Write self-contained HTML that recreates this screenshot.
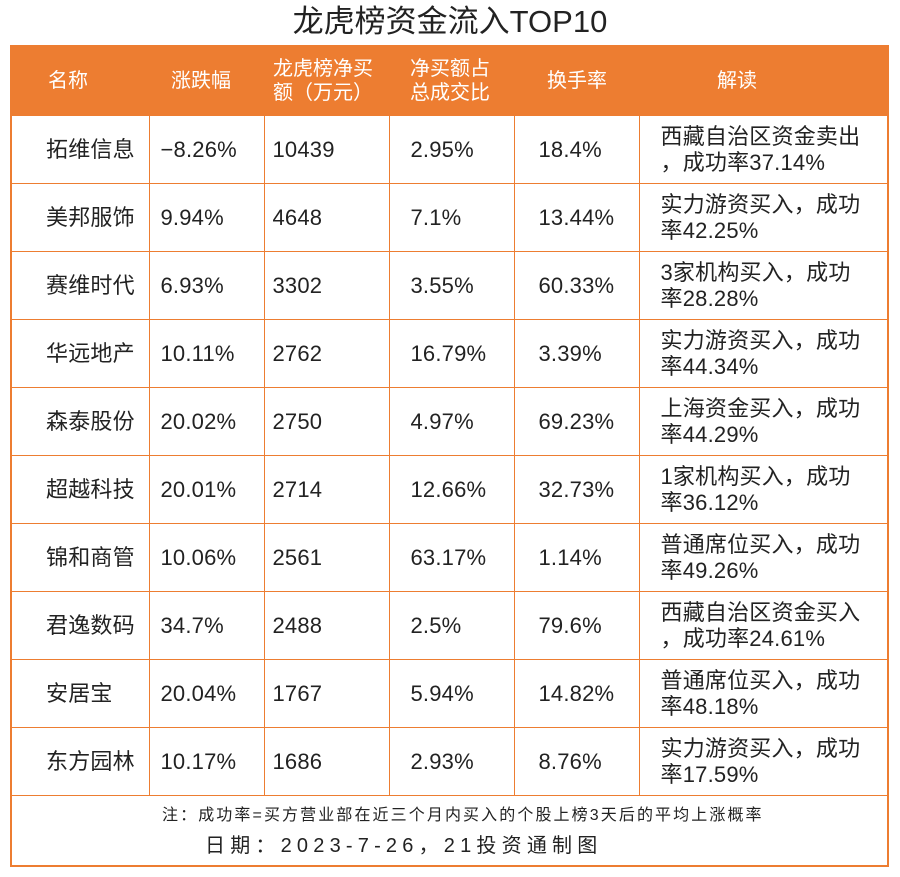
<!DOCTYPE html>
<html><head><meta charset="utf-8">
<style>
body{margin:0;width:900px;height:877px;background:#fff;font-family:"Liberation Sans","Noto Sans CJK SC",sans-serif;color:#222;position:relative;overflow:hidden}
#title{position:absolute;top:3px;left:0;width:900px;text-align:center;font-size:31px;line-height:38px;color:#222}
#wrap{position:absolute;left:10px;top:45px;width:875px;height:818px;border:2px solid #ED7D31;}
table{border-collapse:collapse;position:absolute;left:0;top:0;table-layout:fixed;width:877px}
th{background:#ED7D31;color:#fff;font-weight:normal;font-size:20px;line-height:24px;height:68px;text-align:left;vertical-align:middle;padding:0;border:none;white-space:nowrap}
td{border:1.5px solid #ED7D31;height:67px;font-size:22px;line-height:26px;padding:0;vertical-align:middle;letter-spacing:0.2px;white-space:nowrap}
tr td:first-child{border-left:none}
tr td:last-child{border-right:none}
#n1{position:absolute;left:150px;top:759px;font-size:16px;line-height:20px;letter-spacing:2.1px;white-space:nowrap}
#n2{position:absolute;left:193px;top:786px;font-size:20px;line-height:26px;letter-spacing:5.2px;white-space:nowrap}
</style></head><body>
<div id="title">龙虎榜资金流入TOP10</div>
<div id="wrap">
<table>
<colgroup><col style="width:137px"><col style="width:115px"><col style="width:125px"><col style="width:125px"><col style="width:125px"><col style="width:250px"></colgroup>
<thead><tr>
<th style="padding-left:36px">名称</th>
<th style="padding-left:22px">涨跌幅</th>
<th style="padding-left:9px">龙虎榜净买<br>额（万元）</th>
<th style="padding-left:21px">净买额占<br>总成交比</th>
<th style="padding-left:33px">换手率</th>
<th style="padding-left:78px">解读</th>
</tr></thead>
<tbody id="tb"></tbody>
</table>
<div id="n1">注：成功率=买方营业部在近三个月内买入的个股上榜3天后的平均上涨概率</div>
<div id="n2">日期：2023-7-26，21投资通制图</div>
</div>
<script>
const names=["拓维信息","美邦服饰","赛维时代","华远地产","森泰股份","超越科技","锦和商管","君逸数码","安居宝","东方园林"];
const changes=["−8.26%","9.94%","6.93%","10.11%","20.02%","20.01%","10.06%","34.7%","20.04%","10.17%"];
const netBuy=["10439","4648","3302","2762","2750","2714","2561","2488","1767","1686"];
const ratios=["2.95%","7.1%","3.55%","16.79%","4.97%","12.66%","63.17%","2.5%","5.94%","2.93%"];
const turnover=["18.4%","13.44%","60.33%","3.39%","69.23%","32.73%","1.14%","79.6%","14.82%","8.76%"];
const notes=["西藏自治区资金卖出<br>，成功率37.14%","实力游资买入，成功<br>率42.25%","3家机构买入，成功<br>率28.28%","实力游资买入，成功<br>率44.34%","上海资金买入，成功<br>率44.29%","1家机构买入，成功<br>率36.12%","普通席位买入，成功<br>率49.26%","西藏自治区资金买入<br>，成功率24.61%","普通席位买入，成功<br>率48.18%","实力游资买入，成功<br>率17.59%"];
const tb=document.getElementById('tb');
const pads=[34,11,8,21,24,21];
const cn=['cell-name','cell-change','cell-net-buy','cell-ratio','cell-turnover','cell-interpretation'];
names.forEach((n,i)=>{
 const tr=document.createElement('tr');
 
 
 [n,changes[i],netBuy[i],ratios[i],turnover[i],notes[i]].forEach((v,j)=>{
  const td=document.createElement('td');
  
  
  td.style.paddingLeft=pads[j]+'px';
  td.innerHTML=v;
  tr.appendChild(td);
 });
 tb.appendChild(tr);
});
</script>
</body></html>
